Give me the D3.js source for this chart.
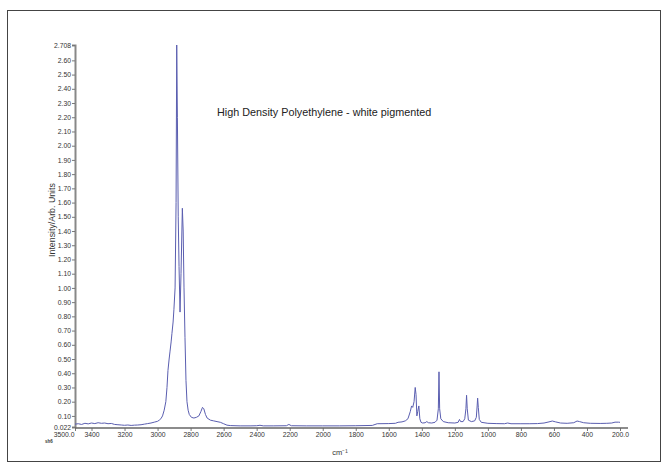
<!DOCTYPE html>
<html>
<head>
<meta charset="utf-8">
<script src="https://cdn.jsdelivr.net/npm/d3@7/dist/d3.min.js"></script>
<style>
  html, body { margin: 0; padding: 0; background: #fff; }
  svg { display: block; font-family: "Liberation Sans", Arial, sans-serif; }
</style>
</head>
<body>
<svg id="chart" width="668" height="470"></svg>
<script>
// ---- data ----
const title = "High Density Polyethylene - white pigmented";
const xTitle = "cm\u207B\u00B9";
const yTitle = "Intensity/Arb. Units";
const xDomain = [3500, 200];
const yDomain = [0.022, 2.708];
const xTickValues = [3500, 3400, 3200, 3000, 2800, 2600, 2400, 2200, 2000, 1800, 1600, 1400, 1200, 1000, 800, 600, 400, 200];
const yTickValues = [0.022, 0.1, 0.2, 0.3, 0.4, 0.5, 0.6, 0.7, 0.8, 0.9, 1.0, 1.1, 1.2, 1.3, 1.4, 1.5, 1.6, 1.7, 1.8, 1.9, 2.0, 2.1, 2.2, 2.3, 2.4, 2.5, 2.6, 2.708];
const wavenumber = [3500,3480,3460,3440,3420,3400,3380,3360,3340,3320,3300,3280,3260,3240,3220,3200,3180,3160,3140,3120,3100,3080,3060,3040,3020,3000,2990,2980,2970,2960,2950,2943,2937,2930,2925,2918,2913,2906,2901,2894,2888,2884,2880,2875,2870,2864,2858,2850,2845,2840,2834,2828,2822,2815,2808,2795,2780,2765,2750,2738,2728,2720,2710,2700,2680,2660,2640,2620,2600,2580,2560,2500,2440,2400,2380,2360,2300,2220,2205,2190,2100,2000,1900,1800,1700,1670,1600,1560,1544,1520,1500,1484,1470,1462,1455,1447,1440,1435,1430,1425,1418,1412,1405,1395,1380,1370,1360,1340,1320,1308,1300,1296,1292,1285,1270,1240,1200,1180,1172,1165,1150,1140,1133,1129,1125,1118,1100,1080,1070,1065,1062,1058,1052,1040,1000,950,900,880,860,800,750,700,660,630,610,590,560,520,480,460,445,420,380,320,280,250,230,210,200];
const intensity = [0.042,0.045,0.040,0.048,0.044,0.050,0.046,0.052,0.048,0.050,0.045,0.047,0.040,0.038,0.036,0.034,0.036,0.033,0.035,0.036,0.038,0.042,0.046,0.050,0.056,0.062,0.070,0.080,0.100,0.140,0.200,0.300,0.420,0.500,0.550,0.620,0.680,0.760,0.850,1.000,1.600,2.708,2.200,1.500,1.150,0.830,1.100,1.560,1.400,1.000,0.650,0.350,0.200,0.140,0.110,0.090,0.085,0.090,0.100,0.130,0.160,0.150,0.110,0.085,0.070,0.065,0.060,0.055,0.045,0.035,0.032,0.030,0.030,0.031,0.034,0.030,0.030,0.031,0.040,0.031,0.030,0.030,0.030,0.031,0.033,0.045,0.046,0.048,0.055,0.058,0.065,0.080,0.130,0.170,0.160,0.200,0.300,0.250,0.100,0.130,0.170,0.080,0.055,0.050,0.052,0.060,0.052,0.050,0.055,0.070,0.150,0.410,0.150,0.080,0.060,0.052,0.050,0.055,0.075,0.060,0.060,0.080,0.150,0.245,0.150,0.070,0.060,0.065,0.090,0.170,0.225,0.160,0.075,0.055,0.048,0.046,0.045,0.050,0.045,0.045,0.045,0.046,0.050,0.058,0.064,0.058,0.050,0.048,0.052,0.064,0.060,0.052,0.048,0.047,0.048,0.050,0.056,0.056,0.055];

// ---- drawing ----
const svg = d3.select("#chart");
const mLeft = 75, mRight = 620, mTop = 45, mBottom = 427;
const x = d3.scaleLinear().domain(xDomain).range([mLeft, mRight]);
const y = d3.scaleLinear().domain(yDomain).range([mBottom, mTop]);

// outer frame
svg.append("rect").attr("x", 7.5).attr("y", 10.5).attr("width", 653).attr("height", 451)
  .attr("fill", "none").attr("stroke", "#444").attr("stroke-width", 1);

// y axis
const yAxis = d3.axisLeft(y).tickValues(yTickValues).tickSize(3).tickPadding(1)
  .tickFormat(d => (d === 0.022 || d === 2.708) ? d3.format(".3f")(d) : d3.format(".2f")(d));
const gy = svg.append("g").attr("transform", `translate(${mLeft},0)`).call(yAxis);
gy.select(".domain").attr("stroke", "#888").attr("stroke-width", 2);
gy.selectAll(".tick line").attr("stroke", "#777");
gy.selectAll(".tick text").attr("font-size", 6.8).attr("fill", "#333")
  .attr("font-family", "Liberation Sans, Arial, sans-serif");

// x axis
const xAxis = d3.axisBottom(x).tickValues(xTickValues).tickSize(3).tickPadding(1)
  .tickSizeOuter(0)
  .tickFormat(d => (d === 3500 || d === 200) ? d3.format(".1f")(d) : d3.format("d")(d));
const gx = svg.append("g").attr("transform", `translate(0,${mBottom + 1})`).call(xAxis);
gx.select(".domain").remove();
gx.append("line").attr("x1", mLeft).attr("x2", 628).attr("y1", 0).attr("y2", 0)
  .attr("stroke", "#666").attr("stroke-width", 1.5);
gx.selectAll(".tick line").attr("stroke", "#777");
gx.selectAll(".tick text").attr("font-size", 6.8).attr("fill", "#333")
  .attr("font-family", "Liberation Sans, Arial, sans-serif");
gx.selectAll(".tick").filter(d => d === 3500).select("text")
  .attr("text-anchor", "end").attr("dx", -1);

// spectrum line
const data = wavenumber.map((w, i) => [w, intensity[i]]);
const line = d3.line().x(d => x(d[0])).y(d => y(d[1]));
svg.append("path").datum(data).attr("d", line)
  .attr("fill", "none").attr("stroke", "#5a5eb0").attr("stroke-width", 1)
  .attr("stroke-linejoin", "round");

// titles
svg.append("text").attr("x", 217).attr("y", 115.5).attr("font-size", 10.8)
  .attr("fill", "#222").text(title);
svg.append("text").attr("x", 340).attr("y", 455).attr("text-anchor", "middle")
  .attr("font-size", 7.5).attr("fill", "#333").text(xTitle);
svg.append("text").attr("transform", "translate(55,220) rotate(-90)")
  .attr("text-anchor", "middle").attr("font-size", 8.8).attr("fill", "#333").text(yTitle);
svg.append("text").attr("x", 45).attr("y", 443).attr("font-size", 4.5)
  .attr("font-weight", "bold").attr("fill", "#333").text("sh6");
</script>
</body>
</html>
